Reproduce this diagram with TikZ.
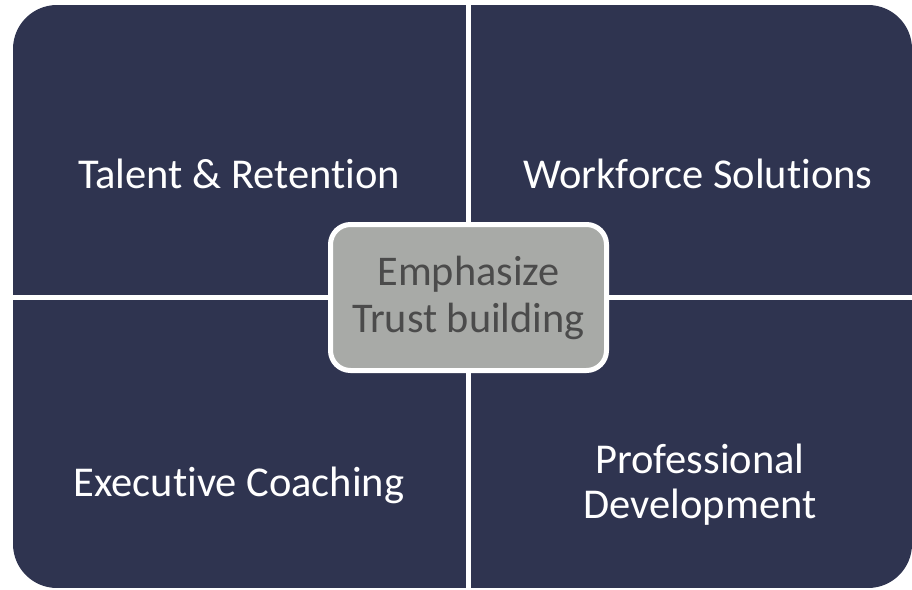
\documentclass[tikz,border=0pt]{standalone}
\usepackage{fontspec}
\setmainfont{Carlito}[Ligatures=NoCommon]
\usepackage{xcolor}
\definecolor{navy}{RGB}{47,52,80}
\definecolor{boxgray}{RGB}{168,170,167}
\definecolor{textgray}{RGB}{75,75,75}
\tikzset{
	quad/.style={fill=navy},
	quadtext/.style={text=white, anchor=base, align=center, inner sep=0pt, font=\fontsize{42.5}{45}\selectfont},
	centerbox/.style={draw=white, line width=5pt, fill=boxgray, rounded corners=20pt, minimum width=276pt, minimum height=146pt, inner sep=0pt},
	centertext/.style={text=textgray, anchor=base, align=center, inner sep=0pt, font=\fontsize{42.3}{47}\selectfont}
}
\begin{document}
\begin{tikzpicture}[x=1pt, y=-1pt]
		\useasboundingbox (0,0) rectangle (912,589);
		\begin{scope}
			\clip[rounded corners=44pt] (13,5) rectangle (912,588);
			\fill[quad] (13,5) rectangle (466,295);
			\fill[quad] (471,5) rectangle (912,295);
			\fill[quad] (13,300) rectangle (466,588);
			\fill[quad] (471,300) rectangle (912,588);
		\end{scope}
		\node[quadtext] (talent) at (239,188) {Talent \& Retention};
		\node[quadtext] (workforce) at (698,188) {Workforce Solutions};
		\node[quadtext] (executive) at (239,496) {Executive Coaching};
		\node[quadtext] (professional) at (700,518) {Professional\\Development};
		\node[centerbox] (trust) at (468.5,297.5) {};
		\node[centertext] (emphasize) at (468.5,332) {Emphasize\\Trust building};
	\end{tikzpicture}
\end{document}
